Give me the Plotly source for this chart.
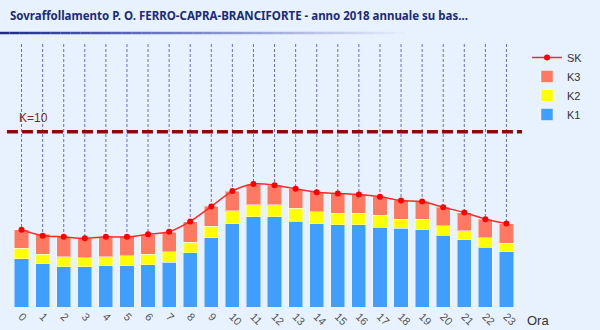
import plotly.graph_objects as go

hours = [str(h) for h in range(24)]
k1 = [2.76, 2.48, 2.29, 2.29, 2.34, 2.34, 2.42, 2.55, 3.09, 3.96, 4.76, 5.14,
      5.14, 4.90, 4.76, 4.69, 4.69, 4.55, 4.50, 4.42, 4.08, 3.83, 3.41, 3.16]
k2 = [0.59, 0.53, 0.59, 0.51, 0.53, 0.59, 0.59, 0.59, 0.61, 0.65, 0.72, 0.69,
      0.69, 0.72, 0.67, 0.67, 0.67, 0.67, 0.51, 0.59, 0.55, 0.53, 0.55, 0.48]
k3 = [1.07, 1.14, 1.12, 1.12, 1.12, 1.07, 1.10, 1.12, 1.16, 1.14, 1.12, 1.16,
      1.12, 1.12, 1.14, 1.12, 1.07, 1.07, 1.07, 1.01, 1.07, 1.03, 1.05, 1.12]
sk = [4.40, 4.07, 4.00, 3.92, 4.00, 4.00, 4.15, 4.29, 4.88, 5.73, 6.61, 7.01,
      6.95, 6.74, 6.55, 6.48, 6.42, 6.29, 6.07, 6.02, 5.69, 5.39, 5.01, 4.76]
K_LIMIT = 10
Y_MAX = 15

title = "Sovraffollamento P. O. FERRO-CAPRA-BRANCIFORTE - anno 2018 annuale su bas..."

fig = go.Figure()
bar_line = dict(color="rgba(255,255,255,0.45)", width=1)
fig.add_trace(go.Bar(x=hours, y=k1, name="K1", marker=dict(color="#409EFF", line=bar_line)))
fig.add_trace(go.Bar(x=hours, y=k2, name="K2", marker=dict(color="#FFFF00", line=bar_line)))
fig.add_trace(go.Bar(x=hours, y=k3, name="K3", marker=dict(color="#FF7862", line=bar_line)))

# drop lines from top of plot to each SK point
dx, dy = [], []
for h, v in zip(hours, sk):
    dx += [h, h, None]
    dy += [Y_MAX, v, None]
fig.add_trace(go.Scatter(x=dx, y=dy, mode="lines", showlegend=False, hoverinfo="skip",
                         line=dict(color="#6B6BC8", width=1, dash="3px,2px")))

fig.add_trace(go.Scatter(x=hours, y=sk, name="SK", mode="lines+markers",
                         line=dict(color="#FF2A2A", width=1.5, shape="spline", smoothing=0.8),
                         marker=dict(color="#FF0000", size=6)))

fig.add_shape(type="line", xref="paper", yref="y", x0=-0.008, x1=1.01, y0=K_LIMIT, y1=K_LIMIT,
              line=dict(color="#8B0A0A", width=3.5, dash="11px,4px"))
fig.add_annotation(text=f"K={K_LIMIT}", xref="paper", yref="y", x=0.012, y=K_LIMIT,
                   xanchor="left", yanchor="bottom", yshift=5, showarrow=False,
                   font=dict(family="Liberation Sans, Arial", size=12, color="#8B2222"))

# title underline gradient
n = 40
for i in range(n):
    fig.add_shape(type="line", xref="paper", yref="paper",
                  x0=-11.5/505 + i * (405/505) / n, x1=-11.5/505 + (i + 1) * (405/505) / n,
                  y0=1 + 11/263, y1=1 + 11/263,
                  line=dict(color=f"rgba(30,40,150,{1 - i / n:.3f})", width=2.5))

fig.add_annotation(text="Ora", xref="paper", yref="paper", x=1.015, y=-0.05,
                   xanchor="left", yanchor="middle", showarrow=False,
                   font=dict(family="Liberation Sans, Arial", size=13, color="#333333"))

fig.update_layout(
    width=600, height=330,
    margin=dict(l=11, r=83, t=44, b=23, autoexpand=False),
    paper_bgcolor="#E8F2FE", plot_bgcolor="#E8F2FE",
    barmode="stack", bargap=0.33,
    title=dict(text=title, x=10/600, xanchor="left", y=1 - 16/330, yanchor="middle",
               font=dict(family="Noto Sans", size=11.5, color="#1B2A7A", weight="bold")),
    legend=dict(xref="container", yref="container", x=527/600, y=1 - 43/330,
                xanchor="left", yanchor="top", traceorder="reversed",
                bgcolor="rgba(0,0,0,0)", tracegroupgap=0, itemwidth=30,
                font=dict(family="Liberation Sans, Arial", size=11, color="#333333")),
    xaxis=dict(range=[-0.5, 23.5], showgrid=False, zeroline=False, showline=False,
               tickangle=45, automargin=False,
               tickfont=dict(family="Liberation Sans, Arial", size=11, color="#555555"),
               ticks="", ticklen=0),
    yaxis=dict(range=[0, Y_MAX], showgrid=False, zeroline=False, showticklabels=False,
               showline=False, automargin=False),
    showlegend=True,
)

fig.write_html("out.html")
